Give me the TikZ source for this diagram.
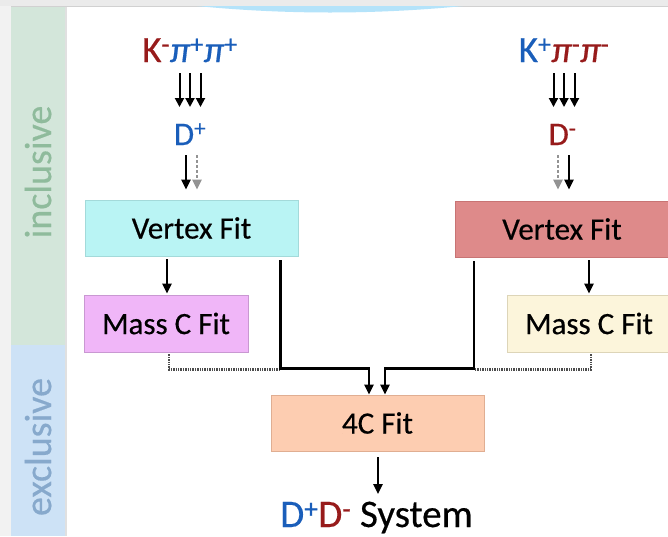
\documentclass[tikz,border=0pt]{standalone}
\usepackage{fontspec}
\setmainfont{Carlito}[FakeBold=0.45]
\usetikzlibrary{arrows.meta,calc}

\definecolor{pred}{HTML}{971B1B}
\definecolor{pblue}{HTML}{1A5EBA}
\definecolor{incfill}{HTML}{D3E6DA}
\definecolor{inctext}{HTML}{8FBB9C}
\definecolor{excfill}{HTML}{CDE2F6}
\definecolor{exctext}{HTML}{87A9CC}
\definecolor{vflfill}{HTML}{B9F4F4}
\definecolor{vflline}{HTML}{A3DADA}
\definecolor{vfrfill}{HTML}{DE8A8A}
\definecolor{vfrline}{HTML}{C87474}
\definecolor{mclfill}{HTML}{F0B6F8}
\definecolor{mclline}{HTML}{C998D2}
\definecolor{mcrfill}{HTML}{FCF5DB}
\definecolor{mcrline}{HTML}{DDD5B8}
\definecolor{cfourfill}{HTML}{FDCDB1}
\definecolor{cfourline}{HTML}{E0AE92}
\definecolor{topbar}{HTML}{EBEBEB}
\definecolor{arcblue}{HTML}{B4E3FA}

\newcommand{\chg}[1]{\textsuperscript{#1}}
\newcommand{\gpi}{{\itshape π}}

\begin{document}
\begin{tikzpicture}[x=1pt,y=-1pt,
  fitbox/.style={minimum width=213pt,minimum height=56pt,inner sep=0pt,
    line width=0.8pt,font=\fontsize{31}{31}\selectfont},
  masbox/.style={fitbox,minimum width=164pt,minimum height=57pt},
  particle/.style={inner sep=0pt,anchor=base},
  sidelabel/.style={rotate=90,inner sep=0pt,font=\fontsize{38}{38}\selectfont},
  triarr/.style={line width=2pt,-{Triangle[length=9pt,width=9pt]}},
  arr/.style={line width=2.4pt,-{Triangle[length=10pt,width=9pt]}},
  garr/.style={arr,draw=gray!85,dash pattern=on 3pt off 2pt},
  link/.style={line width=2.4pt},
  dotlink/.style={line width=2.2pt,draw=black!70,dash pattern=on 1.4pt off 1pt}]

\useasboundingbox (0,0) rectangle (668,536);

% window frame and side bands
\fill[white] (0,0) rectangle (668,536);
\fill[black!5] (0,0) rectangle (11,536);
\fill[topbar] (0,0) rectangle (668,6);
\draw[black!18,line width=0.8pt] (11,6) -- (668,6);
\fill[arcblue] (197,6) parabola bend (330,12.5) (463,6) -- cycle;
\fill[incfill] (11,7) rectangle (65,345);
\fill[excfill] (11,345) rectangle (65,536);
\draw[black!12,line width=1.5pt] (66,7) -- (66,536);

\node[sidelabel,text=inctext] (inc) at (38,172) {inclusive};
\node[sidelabel,text=exctext] (exc) at (38,447) {exclusive};

% decay products and mesons
\node[particle,font=\fontsize{37}{37}\selectfont] (kpp) at (190,62)
  {\textcolor{pred}{K\chg{-}}\textcolor{pblue}{\gpi\chg{+}\gpi\chg{+}}};
\node[particle,font=\fontsize{37}{37}\selectfont] (kmm) at (564,62)
  {\textcolor{pblue}{K\chg{+}}\textcolor{pred}{\gpi\chg{-}\gpi\chg{-}}};
\node[particle,font=\fontsize{33}{33}\selectfont,text=pblue] (dp) at (190,145) {D\chg{+}};
\node[particle,font=\fontsize{33}{33}\selectfont,text=pred] (dm) at (562.5,145) {D\chg{-}};

% fit stages
\node[fitbox,fill=vflfill,draw=vflline] (vfl) at (191.5,228) {Vertex Fit};
\node[fitbox,fill=vfrfill,draw=vfrline] (vfr) at (562,229) {Vertex Fit};
\node[masbox,fill=mclfill,draw=mclline] (mcl) at (166,323.5) {Mass C Fit};
\node[masbox,fill=mcrfill,draw=mcrline] (mcr) at (589,323.5) {Mass C Fit};
\node[fitbox,fill=cfourfill,draw=cfourline] (cfour) at (377.5,423) {4C Fit};
\node[particle,font=\fontsize{39}{39}\selectfont] (sys) at (376.5,527)
  {\textcolor{pblue}{D\chg{+}}\textcolor{pred}{D\chg{-}} System};

% tracks to mesons
\foreach \dx in {-10.5,0,10.5}{
  \draw[triarr] ($(kpp.base)+(\dx,11)$) -- ($(dp.base)+(\dx,-38)$);
  \draw[triarr] ($(kmm.base)+(\dx,11)$) -- ($(dm.base)+(\dx+1.5,-38)$);
}

% mesons to vertex fits
\draw[arr]  ($(dp.base)+(-4,10)$) -- ($(vfl.north)+(-5.5,-10)$);
\draw[garr] ($(dp.base)+(7,10)$)  -- ($(vfl.north)+(5.5,-10)$);
\draw[garr] ($(dm.base)+(-4.5,10)$) -- ($(vfr.north)+(-4,-11)$);
\draw[arr]  ($(dm.base)+(6.5,10)$)  -- ($(vfr.north)+(7,-11)$);

% vertex fits to mass-constrained fits
\draw[arr] ($(vfl.south -| mcl.north)+(1,3)$) -- ($(mcl.north)+(1,-1)$);
\draw[arr] ($(vfr.south -| mcr.north)+(0,3)$) -- ($(mcr.north)+(0,-1)$);

% both branches into the 4C fit
\draw[dotlink] ($(mcl.south)+(3,2)$) |- ($(vfl.south east)+(-18,113)$);
\draw[dotlink] ($(mcr.south)+(2,2)$) |- ($(vfr.south west)+(19,112)$);
\draw[link,-{Triangle[length=10pt,width=9pt]}]
  ($(vfl.south east)+(-18,4)$) |- ($(cfour.north)+(-8.5,-26)$) -- ($(cfour.north)+(-8.5,0)$);
\draw[link,-{Triangle[length=10pt,width=9pt]}]
  ($(vfr.south west)+(19,4)$) |- ($(cfour.north)+(7.5,-26)$) -- ($(cfour.north)+(7.5,0)$);

% result
\draw[arr] ($(cfour.south)+(0.5,6)$) -- ($(sys.base)+(1.5,-33)$);
\end{tikzpicture}
\end{document}
